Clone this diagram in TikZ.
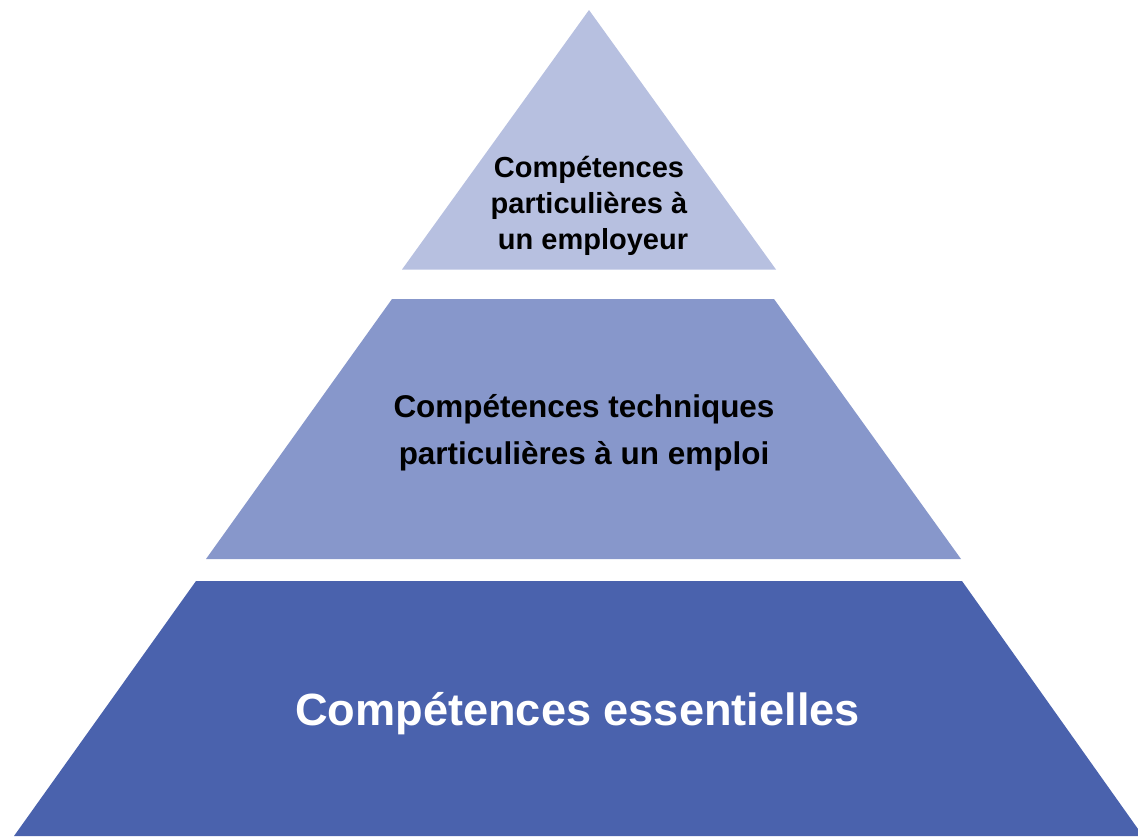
\documentclass[tikz,border=0pt]{standalone}
\usepackage{fontspec}
\setmainfont{Liberation Sans}
\definecolor{tierTop}{HTML}{B7C0E0}
\definecolor{tierMid}{HTML}{8797CB}
\definecolor{tierBase}{HTML}{4A62AD}
\tikzset{tierlabel/.style={align=center, font=\bfseries, inner sep=0pt}}
\begin{document}
\begin{tikzpicture}[x=0.02cm, y=-0.02cm]
	%%%%% START %%%%%
	\useasboundingbox (0, 0) rectangle (1138, 836);
	\clip (0, 0) rectangle (1138, 836);
	
	% top tier
	\fill[tierTop] (589, 10) -- (776, 269.5) -- (402, 269.5) -- cycle;
	\node[tierlabel, font=\bfseries\fontsize{16.5}{20.5}\selectfont] (topLabel) at (589, 206)
		{Compétences\\particulières à\\\ un employeur};
	
	% middle tier
	\fill[tierMid] (392, 299) -- (774, 299) -- (961, 559) -- (206, 559) -- cycle;
	\node[tierlabel, font=\bfseries\fontsize{17.9}{26.7}\selectfont] (midLabel) at (584, 433)
		{Compétences techniques\\particulières à un emploi};
	
	% base tier
	\fill[tierBase] (196, 581) -- (962, 581) -- (1143, 836) -- (14, 836) -- cycle;
	\node[tierlabel, text=white, font=\bfseries\fontsize{25.7}{30}\selectfont] (baseLabel) at (577.5, 714)
		{Compétences essentielles};
	
	%%%%% END %%%%%
\end{tikzpicture}
\end{document}
